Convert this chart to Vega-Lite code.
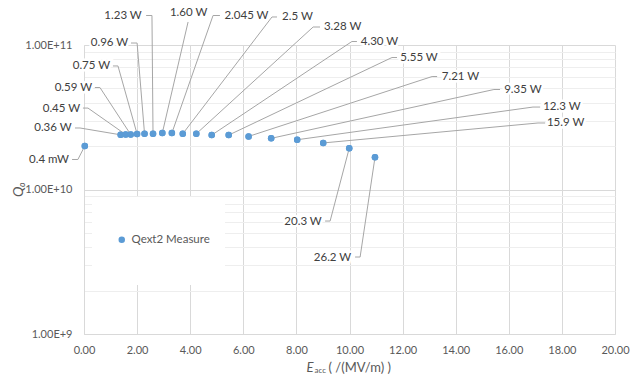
{
  "$schema": "https://vega.github.io/schema/vega-lite/v6.json",
  "width": 531,
  "height": 289,
  "autosize": {"type": "none"},
  "padding": {"left": 84, "top": 45, "right": 15, "bottom": 44},
  "background": "white",
  "config": {
    "view": {"stroke": null},
    "font": "Lato",
    "axisX": {"values": [0, 2, 4, 6, 8, 10, 12, 14, 16, 18, 20], "format": ".2f", "labelFlush": false, "grid": true, "gridColor": "#d9d9d9", "ticks": false, "domainColor": "#d9d9d9", "labelColor": "#595959", "labelFontSize": 11, "labelFont": "Lato", "labelPadding": 10},
    "axisY": {
      "values": [1e9, 2e9, 3e9, 4e9, 5e9, 6e9, 7e9, 8e9, 9e9, 1e10, 2e10, 3e10, 4e10, 5e10, 6e10, 7e10, 8e10, 9e10, 1e11],
      "labelExpr": "(datum.value == 1e9 || datum.value == 1e10 || datum.value == 1e11) ? upper(format(datum.value, '.2e')) : ''",
      "labelFlush": false,
      "grid": true,
      "gridColor": {"condition": {"test": "datum.value == 1e9 || datum.value == 1e10 || datum.value == 1e11", "value": "#d9d9d9"}, "value": "#eeeeee"},
      "ticks": false, "domainColor": "#d9d9d9", "labelColor": "#595959", "labelFontSize": 11, "labelFont": "Lato", "labelPadding": 12,
      "titleFontStyle": "italic", "titleFontWeight": "normal", "titleFontSize": 14, "titleColor": "#595959", "titleFont": "Lato",
      "titleX": -66, "titleY": 144, "titleAngle": 270, "titleAlign": "center", "titleBaseline": "middle"}
  },
  "datasets": {
    "pts": [
      {"label": "0.4 mW", "E": 0.03, "Q": 2.00e10, "tx": -1.32, "ty": 1.600e10, "kx": -0.23, "ky": 1.613e10, "hx": -0.45},
      {"label": "0.36 W", "E": 1.38, "Q": 2.39e10, "tx": -1.17, "ty": 2.665e10, "kx": -0.15, "ky": 2.665e10, "hx": -0.34},
      {"label": "0.45 W", "E": 1.57, "Q": 2.40e10, "tx": -0.85, "ty": 3.61e10, "kx": 0.15, "ky": 3.66e10, "hx": -0.04},
      {"label": "0.59 W", "E": 1.76, "Q": 2.40e10, "tx": -0.40, "ty": 5.04e10, "kx": 0.60, "ky": 5.08e10, "hx": 0.41},
      {"label": "0.75 W", "E": 2.00, "Q": 2.42e10, "tx": 0.28, "ty": 7.16e10, "kx": 1.28, "ky": 7.16e10, "hx": 1.09},
      {"label": "0.96 W", "E": 2.28, "Q": 2.43e10, "tx": 0.96, "ty": 1.032e11, "kx": 2.00, "ky": 1.032e11, "hx": 1.77},
      {"label": "1.23 W", "E": 2.60, "Q": 2.43e10, "tx": 1.47, "ty": 1.587e11, "kx": 2.56, "ky": 1.600e11, "hx": 2.34},
      {"label": "1.60 W", "E": 2.95, "Q": 2.46e10, "tx": 3.94, "ty": 1.666e11, "kx": 3.92, "ky": 1.443e11, "hx": 3.92},
      {"label": "2.045 W", "E": 3.31, "Q": 2.46e10, "tx": 6.12, "ty": 1.587e11, "kx": 4.86, "ky": 1.600e11, "hx": 5.12},
      {"label": "2.5 W", "E": 3.72, "Q": 2.43e10, "tx": 8.04, "ty": 1.563e11, "kx": 7.08, "ky": 1.563e11, "hx": 7.27},
      {"label": "3.28 W", "E": 4.23, "Q": 2.43e10, "tx": 9.74, "ty": 1.332e11, "kx": 8.63, "ky": 1.332e11, "hx": 8.89},
      {"label": "4.30 W", "E": 4.81, "Q": 2.38e10, "tx": 11.13, "ty": 1.049e11, "kx": 10.09, "ky": 1.057e11, "hx": 10.28},
      {"label": "5.55 W", "E": 5.45, "Q": 2.38e10, "tx": 12.62, "ty": 8.13e10, "kx": 11.60, "ky": 8.19e10, "hx": 11.79},
      {"label": "7.21 W", "E": 6.20, "Q": 2.33e10, "tx": 14.18, "ty": 6.00e10, "kx": 13.11, "ky": 6.05e10, "hx": 13.30},
      {"label": "9.35 W", "E": 7.05, "Q": 2.26e10, "tx": 16.53, "ty": 4.88e10, "kx": 15.44, "ky": 4.92e10, "hx": 15.67},
      {"label": "12.3 W", "E": 8.03, "Q": 2.21e10, "tx": 18.00, "ty": 3.72e10, "kx": 16.91, "ky": 3.72e10, "hx": 17.18},
      {"label": "15.9 W", "E": 9.01, "Q": 2.10e10, "tx": 18.14, "ty": 2.886e10, "kx": 17.10, "ky": 2.886e10, "hx": 17.37},
      {"label": "20.3 W", "E": 9.99, "Q": 1.93e10, "tx": 8.25, "ty": 5.96e9, "kx": 9.27, "ky": 6.05e9, "hx": 9.08},
      {"label": "26.2 W", "E": 10.96, "Q": 1.67e10, "tx": 9.36, "ty": 3.36e9, "kx": 10.40, "ky": 3.41e9, "hx": 10.21}
    ]
  },
  "layer": [
    {
      "data": {"name": "pts"},
      "mark": {"type": "point", "filled": true, "size": 42, "opacity": 1, "clip": false},
      "encoding": {
        "x": {"field": "E", "type": "quantitative", "title": null, "scale": {"domain": [0, 20], "nice": false, "zero": false}},
        "y": {"field": "Q", "type": "quantitative", "title": "Q₀", "scale": {"type": "log", "domain": [1e9, 1e11], "nice": false}},
        "color": {"datum": "Qext2 Measure", "type": "nominal",
          "scale": {"range": ["#5b9bd5"]},
          "legend": {"orient": "none", "legendX": 32, "legendY": 189, "title": null, "labelFont": "Lato", "labelFontSize": 11.5, "labelColor": "#595959", "symbolType": "circle", "symbolSize": 42, "padding": 0, "labelOffset": 4}}
      }
    },
    {
      "data": {"values": [{}]},
      "mark": {"type": "rect", "fill": "white", "clip": false},
      "encoding": {
        "x": {"datum": 0.30, "type": "quantitative", "title": null, "scale": {"domain": [0, 20], "nice": false, "zero": false}},
        "x2": {"datum": 5.31},
        "y": {"datum": 8.87e9, "type": "quantitative", "title": "Q₀", "scale": {"type": "log", "domain": [1e9, 1e11], "nice": false}},
        "y2": {"datum": 2.18e9}
      }
    },
    {
      "data": {"name": "pts"},
      "mark": {"type": "rule", "color": "#a6a6a6", "strokeWidth": 1, "clip": false},
      "encoding": {
        "x": {"field": "E", "type": "quantitative", "title": null, "scale": {"domain": [0, 20], "nice": false, "zero": false}},
        "y": {"field": "Q", "type": "quantitative", "title": "Q₀", "scale": {"type": "log", "domain": [1e9, 1e11], "nice": false}},
        "x2": {"field": "kx"},
        "y2": {"field": "ky"}
      }
    },
    {
      "data": {"name": "pts"},
      "mark": {"type": "rule", "color": "#a6a6a6", "strokeWidth": 1, "clip": false},
      "encoding": {
        "x": {"field": "kx", "type": "quantitative", "title": null, "scale": {"domain": [0, 20], "nice": false, "zero": false}},
        "y": {"field": "ky", "type": "quantitative", "title": "Q₀", "scale": {"type": "log", "domain": [1e9, 1e11], "nice": false}},
        "x2": {"field": "hx"},
        "y2": {"field": "ky"}
      }
    },
    {
      "data": {"name": "pts"},
      "mark": {"type": "text", "font": "Lato", "fontSize": 11.5, "color": "white", "stroke": "white", "strokeWidth": 5, "align": "center", "baseline": "middle", "clip": false},
      "encoding": {
        "x": {"field": "tx", "type": "quantitative", "title": null, "scale": {"domain": [0, 20], "nice": false, "zero": false}},
        "y": {"field": "ty", "type": "quantitative", "title": "Q₀", "scale": {"type": "log", "domain": [1e9, 1e11], "nice": false}},
        "text": {"field": "label"}
      }
    },
    {
      "data": {"name": "pts"},
      "mark": {"type": "text", "font": "Lato", "fontSize": 11.5, "color": "#404040", "align": "center", "baseline": "middle", "clip": false},
      "encoding": {
        "x": {"field": "tx", "type": "quantitative", "title": null, "scale": {"domain": [0, 20], "nice": false, "zero": false}},
        "y": {"field": "ty", "type": "quantitative", "title": "Q₀", "scale": {"type": "log", "domain": [1e9, 1e11], "nice": false}},
        "text": {"field": "label"}
      }
    },
    {
      "data": {"name": "pts"},
      "mark": {"type": "point", "filled": true, "size": 42, "opacity": 1, "clip": false, "color": "#5b9bd5"},
      "encoding": {
        "x": {"field": "E", "type": "quantitative", "title": null, "scale": {"domain": [0, 20], "nice": false, "zero": false}},
        "y": {"field": "Q", "type": "quantitative", "title": "Q₀", "scale": {"type": "log", "domain": [1e9, 1e11], "nice": false}}
      }
    },
    {
      "data": {"values": [{}]},
      "mark": {"type": "text", "text": "E", "font": "Lato", "fontSize": 13, "fontStyle": "italic", "color": "#595959", "align": "right", "baseline": "middle", "dx": -36, "clip": false},
      "encoding": {
        "x": {"datum": 10, "type": "quantitative", "title": null, "scale": {"domain": [0, 20], "nice": false, "zero": false}},
        "y": {"datum": 5.82e8, "type": "quantitative", "title": "Q₀", "scale": {"type": "log", "domain": [1e9, 1e11], "nice": false}}
      }
    },
    {
      "data": {"values": [{}]},
      "mark": {"type": "text", "text": "acc", "font": "Lato", "fontSize": 8, "color": "#595959", "align": "left", "baseline": "middle", "dx": -35, "dy": 3, "clip": false},
      "encoding": {
        "x": {"datum": 10, "type": "quantitative", "title": null, "scale": {"domain": [0, 20], "nice": false, "zero": false}},
        "y": {"datum": 5.82e8, "type": "quantitative", "title": "Q₀", "scale": {"type": "log", "domain": [1e9, 1e11], "nice": false}}
      }
    },
    {
      "data": {"values": [{}]},
      "mark": {"type": "text", "text": "( /(MV/m) )", "font": "Lato", "fontSize": 13, "color": "#595959", "align": "left", "baseline": "middle", "dx": -21, "clip": false},
      "encoding": {
        "x": {"datum": 10, "type": "quantitative", "title": null, "scale": {"domain": [0, 20], "nice": false, "zero": false}},
        "y": {"datum": 5.82e8, "type": "quantitative", "title": "Q₀", "scale": {"type": "log", "domain": [1e9, 1e11], "nice": false}}
      }
    }
  ]
}
